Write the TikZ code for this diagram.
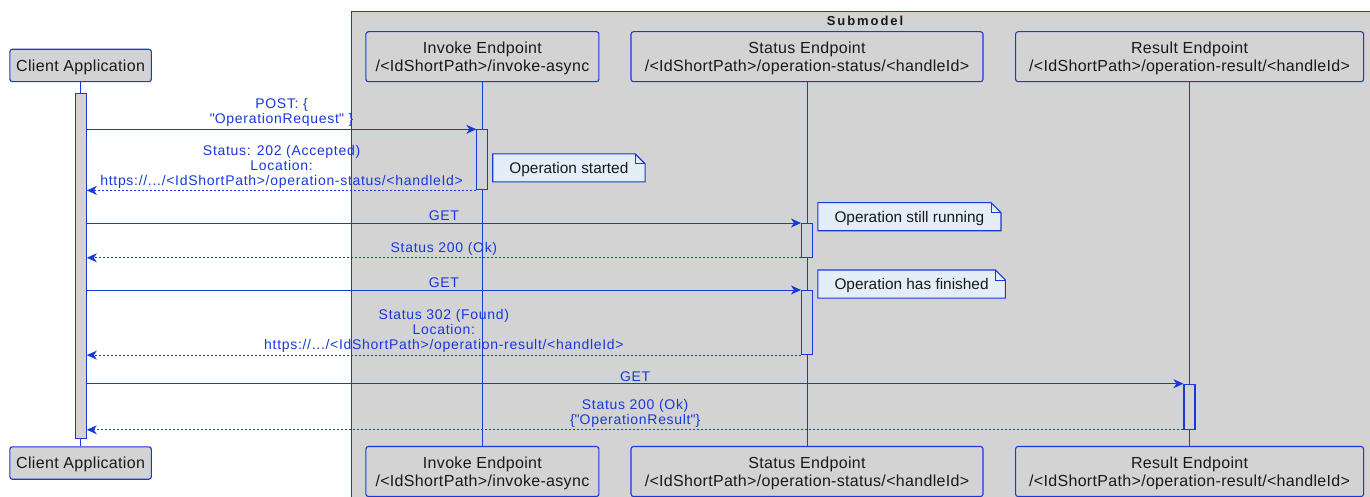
\documentclass[tikz,border=0pt]{standalone}
\usepackage{fontspec}
\setmainfont{Liberation Sans}
\usepackage{xcolor}
\usetikzlibrary{arrows.meta}
\definecolor{umlblue}{RGB}{24,56,220}
\definecolor{umlgray}{RGB}{211,211,211}
\definecolor{notefill}{RGB}{228,238,248}
\definecolor{umltext}{RGB}{25,25,25}

\begin{document}
\begin{tikzpicture}[x=1pt,y=-1pt,
  part/.style={draw=umlblue,line width=1.1pt,fill=umlgray,rounded corners=2.5pt,align=center,text=umltext,font=\fontsize{16}{18.4}\selectfont\addfontfeature{LetterSpace=2},inner sep=0pt,text depth=-1.5pt},
  bar/.style={draw=umlblue,line width=1.1pt,fill=umlgray,minimum width=11pt,inner sep=0pt,anchor=north},
  life/.style={draw=umlblue,line width=0.8pt},
  msg/.style={draw=umlblue,line width=0.9pt,-{Stealth[length=10pt,width=9pt,inset=3pt]}},
  ret/.style={msg,dash pattern=on 2pt off 2pt},
  lbl/.style={text=umlblue,font=\fontsize{14}{15}\selectfont\addfontfeature{LetterSpace=5},align=center,above,inner sep=2pt},
  note/.style={fill=notefill,text=umltext,font=\fontsize{15.4}{18}\selectfont,inner xsep=16.5pt,minimum height=27.7pt,anchor=west,text depth=-1pt}]

\useasboundingbox (0,0) rectangle (1370,497);

% submodel box
\fill[umlgray] (351,11) rectangle (1376,503);
\draw[umlblue,line width=0.9pt] (1376,11) -- (351,11) -- (351,503);
\node[text=umltext,font=\bfseries\fontsize{13}{15}\selectfont\addfontfeature{LetterSpace=15}] (title) at (865,20.5) {Submodel};

% participants
\node[part,minimum width=141.5pt,minimum height=32.4pt] (client) at (80.6,65.5) {Client Application};
\node[part,minimum width=141.5pt,minimum height=32.4pt] (client2) at (80.6,463) {Client Application};
\node[part,minimum width=233pt,minimum height=50pt] (invoke) at (482.4,56.7) {Invoke Endpoint\\/<IdShortPath>/invoke-async};
\node[part,minimum width=233pt,minimum height=50pt] (invoke2) at (482.4,471.5) {Invoke Endpoint\\/<IdShortPath>/invoke-async};
\node[part,minimum width=352pt,minimum height=50pt] (status) at (807,56.7) {Status Endpoint\\/<IdShortPath>/operation-status/<handleId>};
\node[part,minimum width=352pt,minimum height=50pt] (status2) at (807,471.5) {Status Endpoint\\/<IdShortPath>/operation-status/<handleId>};
\node[part,minimum width=348pt,minimum height=50pt] (result) at (1189.6,56.7) {Result Endpoint\\/<IdShortPath>/operation-result/<handleId>};
\node[part,minimum width=348pt,minimum height=50pt] (result2) at (1189.6,471.5) {Result Endpoint\\/<IdShortPath>/operation-result/<handleId>};

% lifelines
\draw[life] (client) -- (client2);
\draw[life] (invoke) -- (invoke2);
\draw[life] (status) -- (status2);
\draw[life] (result) -- (result2);

% activations
\node[bar,minimum height=344.7pt] (cbar) at (80.8,93.3) {};
\node[bar,minimum height=60pt] (ibar) at (482.4,129.3) {};
\node[bar,minimum height=33.7pt] (sbar1) at (807,223) {};
\node[bar,minimum height=64pt] (sbar2) at (807,290) {};
\node[bar,minimum height=45pt] (rbar) at (1189.5,383.7) {};

% messages
\draw[msg] (cbar.east |- ibar.north) -- (ibar.north west) node[lbl,midway]{POST: \{\\\textquotedbl OperationRequest\textquotedbl{} \}};
\draw[ret] (ibar.south west) -- (cbar.east |- ibar.south) node[lbl,midway]{Status: 202 (Accepted)\\Location:\\https://.../<IdShortPath>/operation-status/<handleId>};
\draw[msg] (cbar.east |- sbar1.north) -- (sbar1.north west) node[lbl,midway]{GET};
\draw[ret] (sbar1.south west) -- (cbar.east |- sbar1.south) node[lbl,midway]{Status 200 (Ok)};
\draw[msg] (cbar.east |- sbar2.north) -- (sbar2.north west) node[lbl,midway]{GET};
\draw[ret] (sbar2.south west) -- (cbar.east |- sbar2.south) node[lbl,midway]{Status 302 (Found)\\Location:\\https://.../<IdShortPath>/operation-result/<handleId>};
\draw[msg] (cbar.east |- rbar.north) -- (rbar.north west) node[lbl,midway]{GET};
\draw[ret] (rbar.south west) -- (cbar.east |- rbar.south) node[lbl,midway]{Status 200 (Ok)\\\{\textquotedbl OperationResult\textquotedbl\}};

% notes
\node[note] (n1) at (492.7,167.9) {Operation started};
\node[note] (n2) at (817.8,216.7) {Operation still running};
\node[note] (n3) at (817.8,284) {Operation has finished};
\foreach \n in {n1,n2,n3}{
  \fill[umlgray] ([xshift=-10pt]\n.north east) -- (\n.north east) -- ([yshift=-10pt]\n.north east) -- cycle;
  \draw[umlblue,line width=1.1pt] (\n.north west) -- ([xshift=-10pt]\n.north east) -- ([yshift=-10pt]\n.north east) -- (\n.south east) -- (\n.south west) -- cycle;
  \draw[umlblue,line width=0.8pt] ([xshift=-10pt]\n.north east) |- ([yshift=-10pt]\n.north east);
}

\end{tikzpicture}
\end{document}
